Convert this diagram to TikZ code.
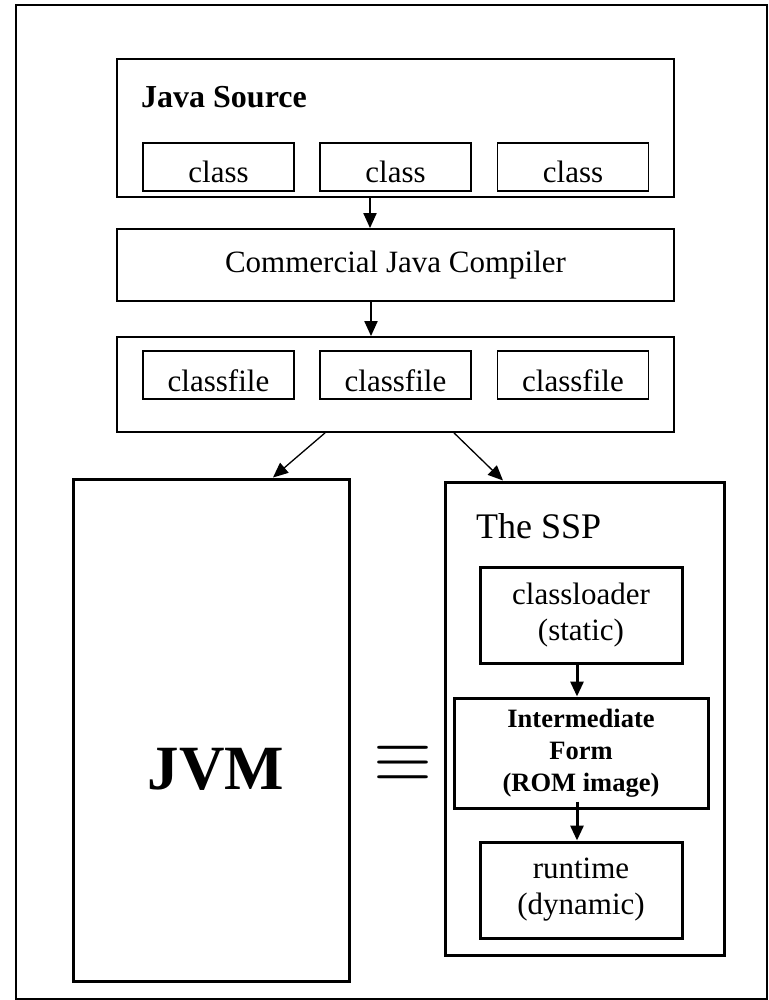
\documentclass[tikz,border=0pt]{standalone}
\usepackage{fontspec}
\setmainfont{Liberation Serif}
\usetikzlibrary{arrows.meta}

\begin{document}
\begin{tikzpicture}[x=1pt,y=-1pt,
box/.style={draw,line width=1.8pt,inner sep=0pt,font=\fontsize{31}{36}\selectfont},
sbox/.style={box,minimum width=151pt,minimum height=48pt,text height=32pt,text depth=0pt},
bbox/.style={draw,line width=3pt,inner sep=0pt,align=center,font=\fontsize{31}{36}\selectfont},
txt/.style={inner sep=0pt,anchor=base west},
arr/.style={-{Triangle[length=15pt,width=13pt]}}]
\useasboundingbox(0,0)rectangle(768,1000);
\draw[line width=1.3pt](16,5)rectangle(767,999);
\node[box,minimum width=557pt,minimum height=138pt](src)at(395.5,128){};
\node[txt,font=\fontsize{32}{38}\bfseries\selectfont](srct)at(141,108){Java Source};
\foreach\i/\x in{1/218.5,2/395.5,3/573}{\node[sbox](c\i)at(\x,167){class};}
\node[box,minimum width=557pt,minimum height=72pt](comp)at(395.5,265){Commercial Java Compiler};
\node[box,minimum width=557pt,minimum height=95pt](cf)at(395.5,384.5){};
\foreach\i/\x in{1/218.5,2/395.5,3/573}{\node[sbox](f\i)at(\x,375){classfile};}
\node[bbox,minimum width=276pt,minimum height=502pt](jvm)at(211,730){};
\node[inner sep=0pt,anchor=base,font=\fontsize{63}{70}\bfseries\selectfont](jvmt)at(216,789){JVM};
\node[inner sep=0pt,font=\fontsize{24.88}{30}\selectfont](eq)at(403.5,764){\scalebox{3.05}{$\equiv$}};
\node[bbox,minimum width=279pt,minimum height=473pt](ssp)at(584.5,718.5){};
\node[txt,font=\fontsize{36}{40}\selectfont](sspt)at(476,538){The SSP};
\node[bbox,minimum width=202pt,minimum height=96pt](cl)at(581,615){classloader\\(static)};
\node[bbox,minimum width=254pt,minimum height=110pt,font=\fontsize{26.5}{32}\bfseries\selectfont](im)at(581,753){Intermediate\\Form\\(ROM image)};
\node[bbox,minimum width=202pt,minimum height=96pt](rt)at(581,890){runtime\\(dynamic)};
\draw[arr,line width=2pt]([xshift=-25.5pt]src.south)--([xshift=-25.5pt]comp.north);
\draw[arr,line width=2pt]([xshift=-24.5pt]comp.south)--([xshift=-24.5pt]cf.north);
\draw[arr,line width=1.3pt]([xshift=-70.5pt]cf.south)--([xshift=62pt]jvm.north);
\draw[arr,line width=1.3pt]([xshift=58.5pt]cf.south)--([xshift=-81.5pt]ssp.north);
\draw[arr,line width=3pt]([xshift=-4pt]cl.south)--([xshift=-4pt]im.north);
\draw[arr,line width=3pt]([xshift=-4pt,yshift=8pt]im.south)--([xshift=-4pt]rt.north);
\end{tikzpicture}
\end{document}
